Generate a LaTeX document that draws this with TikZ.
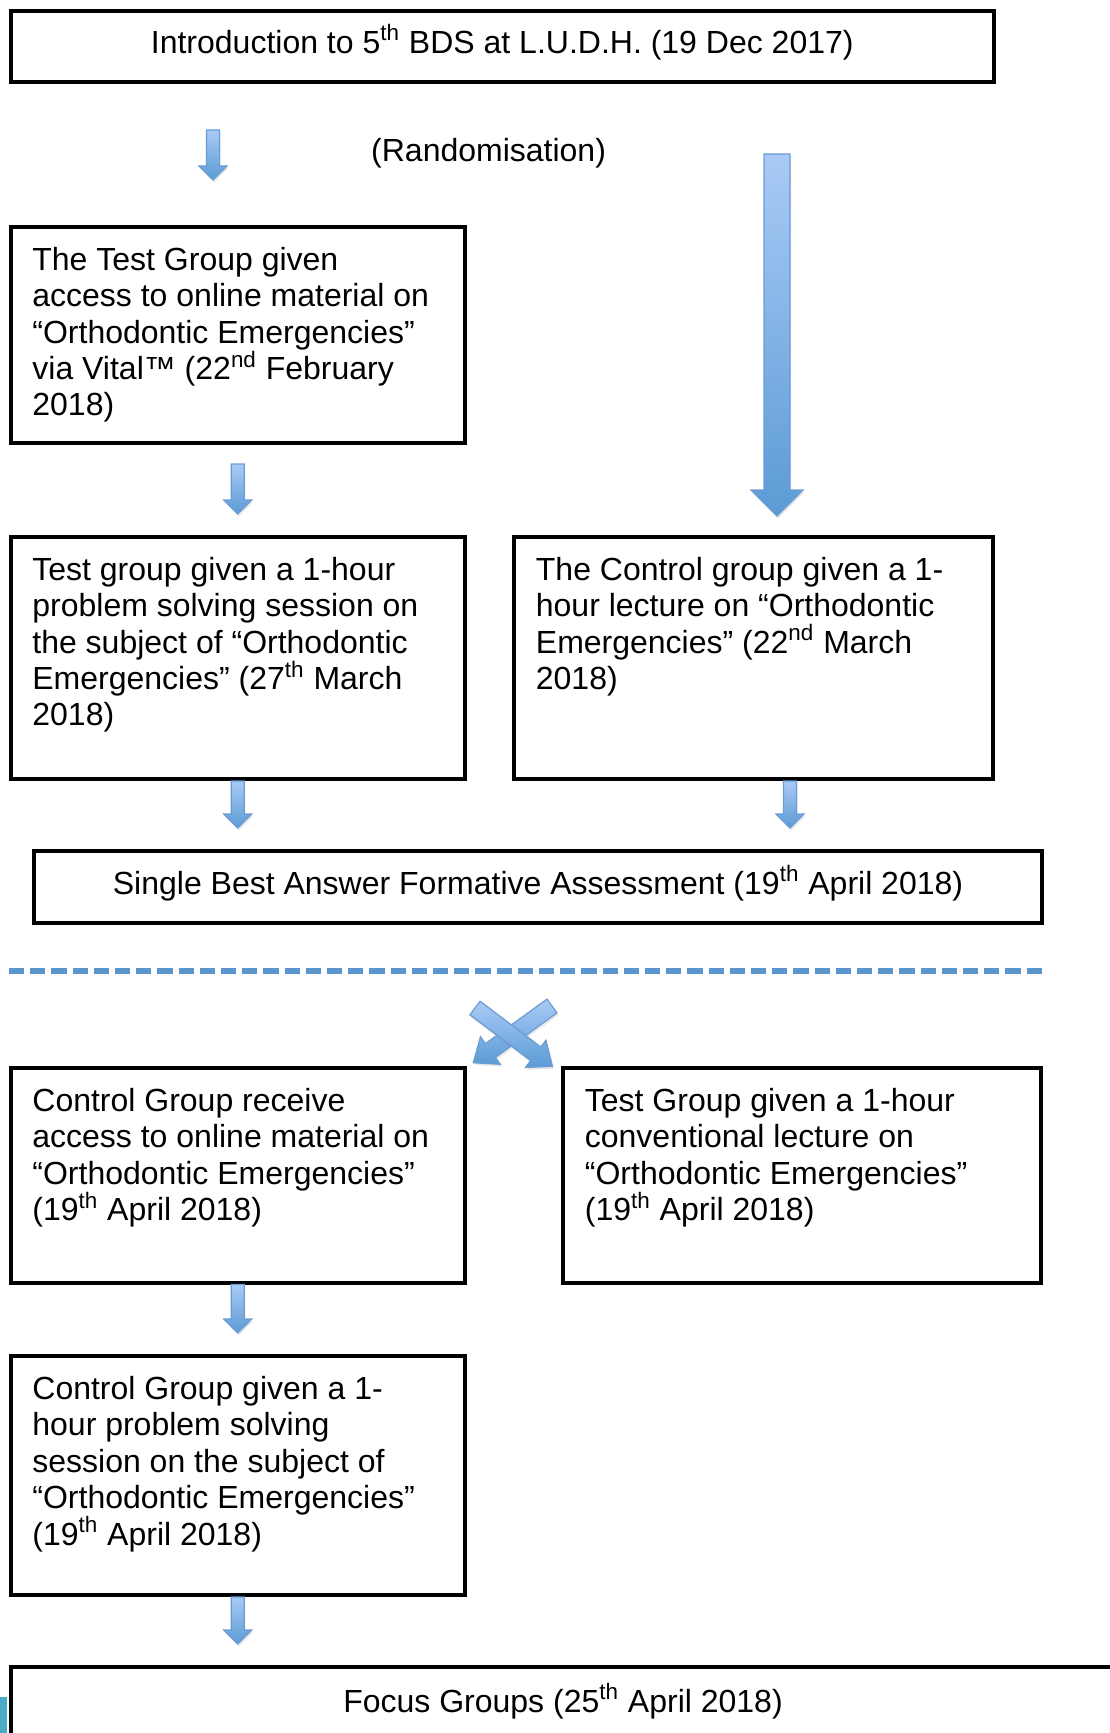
\documentclass[tikz,border=0pt]{standalone}
\usepackage{fontspec}
\setmainfont{Liberation Sans}
\usepackage{xcolor}
\usepackage{tikz}
\usetikzlibrary{shadows, positioning, calc}

\definecolor{arrowlight}{HTML}{A9CAF6}
\definecolor{arrowdark}{HTML}{5B9BD5}
\definecolor{arrowline}{HTML}{6B9CD3}
\definecolor{sepblue}{HTML}{5B95CE}
\definecolor{aquastrip}{HTML}{4BACC6}

\tikzset{
    blockarrow/.style n args={3}{
        to path={let \p1=(\tikztostart), \p2=(\tikztotarget) in
            (\x1-#1,\y1) -- (\x1+#1,\y1) -- (\x1+#1,\y2+#3) -- (\x1+#2,\y2+#3)
            -- (\x1,\y2) -- (\x1-#2,\y2+#3) -- (\x1-#1,\y2+#3) -- cycle}
    }
}

\begin{document}
\begin{tikzpicture}[
    x=0.5pt, y=-0.5pt,
    flowbox/.style={
        rectangle,
        draw=black,
        line width=2pt,
        outer sep=0pt,
        inner sep=0pt,
        font=\fontsize{16pt}{18.2pt}\selectfont
    },
    titlebox/.style={
        flowbox,
        text height=12pt,
        text depth=5pt
    },
    boxtext/.style={
        anchor=north west,
        align=left,
        inner sep=0pt,
        xshift=10.75pt,
        yshift=-9.9pt,
        font=\fontsize{16pt}{18.2pt}\selectfont
    },
    arrowfill/.style={
        top color=arrowlight,
        bottom color=arrowdark,
        draw=arrowline,
        line width=0.6pt,
        drop shadow={opacity=0.18, shadow xshift=0.6pt, shadow yshift=-1.2pt}
    },
    smallarrow/.style={arrowfill, blockarrow={3.25pt}{7pt}{7pt}},
    bigarrow/.style={arrowfill, blockarrow={6.5pt}{13pt}{13pt}},
    separator/.style={draw=sepblue, line width=2.7pt, dash pattern=on 7.6pt off 3pt}
]
    \useasboundingbox (0,0) rectangle (1109,1733);

    % Introduction
    \node[titlebox, minimum width=491.75pt, minimum height=35.5pt, anchor=north west] (intro) at (10.5,11)
        {Introduction to 5\textsuperscript{th} BDS at L.U.D.H. (19 Dec 2017)};
    \node[font=\fontsize{16pt}{18.2pt}\selectfont, anchor=base] (rand) at (488.6,161.7) {(Randomisation)};

    % First phase
    \node[flowbox, minimum width=227.25pt, minimum height=108pt, below=72.5pt of intro.south west, anchor=north west,
        label={[boxtext, name=onlinetxt]north west:The Test Group given\\access to online material on\\“Orthodontic Emergencies”\\via Vital™ (22\textsuperscript{nd} February\\2018)}] (online) {};
    \node[flowbox, minimum width=227.25pt, minimum height=121pt, below=47pt of online.south west, anchor=north west,
        label={[boxtext, name=testpbltxt]north west:Test group given a 1-hour\\problem solving session on\\the subject of “Orthodontic\\Emergencies” (27\textsuperscript{th} March\\2018)}] (testpbl) {};
    \node[flowbox, minimum width=239.5pt, minimum height=121pt, right=24.5pt of testpbl.north east, anchor=north west,
        label={[boxtext, name=ctllecttxt]north west:The Control group given a 1-\\hour lecture on “Orthodontic\\Emergencies” (22\textsuperscript{nd} March\\2018)}] (ctllect) {};
    \node[titlebox, minimum width=504pt, minimum height=36pt, below=36pt of testpbl.south west, anchor=north west, xshift=11.75pt] (sba)
        {Single Best Answer Formative Assessment (19\textsuperscript{th} April 2018)};

    % Separator
    \coordinate (sepL) at (9,971);
    \coordinate (sepR) at (1042,971);
    \draw[separator] (sepL) -- (sepR);

    % Second phase
    \node[flowbox, minimum width=227.25pt, minimum height=107.25pt, below=72.5pt of sba.south west, anchor=north west, xshift=-11.75pt,
        label={[boxtext, name=ctlonlinetxt]north west:Control Group receive\\access to online material on\\“Orthodontic Emergencies”\\(19\textsuperscript{th} April 2018)}] (ctlonline) {};
    \node[flowbox, minimum width=239pt, minimum height=107.25pt, right=49pt of ctlonline.north east, anchor=north west,
        label={[boxtext, name=testlecttxt]north west:Test Group given a 1-hour\\conventional lecture on\\“Orthodontic Emergencies”\\(19\textsuperscript{th} April 2018)}] (testlect) {};
    \node[flowbox, minimum width=227.25pt, minimum height=119.5pt, below=36.75pt of ctlonline.south west, anchor=north west,
        label={[boxtext, name=ctlpbltxt]north west:Control Group given a 1-\\hour problem solving\\session on the subject of\\“Orthodontic Emergencies”\\(19\textsuperscript{th} April 2018)}] (ctlpbl) {};
    \node[titlebox, minimum width=552.5pt, minimum height=38pt, below=36pt of ctlpbl.south west, anchor=north west] (focus)
        {Focus Groups (25\textsuperscript{th} April 2018)};

    % Arrows
    \draw[smallarrow] ($(intro.south west)+(202.5,48)$) to ($(online.north west)+(202.5,-47)$);
    \draw[bigarrow] ($(intro.south west)+(766.5,72)$) to ($(ctllect.north west)+(263,-21)$);
    \draw[smallarrow] ($(online.south)+(0,21)$) to ($(testpbl.north)+(0,-23)$);
    \draw[smallarrow] ($(testpbl.south)+(0,2)$) to ($(sba.north west)+(203.5,-23)$);
    \draw[smallarrow] ($(ctllect.south west)+(276,2)$) to ($(sba.north west)+(756,-23)$);
    \draw[smallarrow] ($(ctlonline.south)+(0,2)$) to ($(ctlpbl.north)+(0,-23)$);
    \draw[smallarrow] ($(ctlpbl.south)+(0,2)$) to ($(focus.north west)+(227.25,-23)$);

    % Crossover
    \draw[arrowfill] (547.0,999.1) -- (485.4,1043.6) -- (480.5,1036.7) -- (473.3,1062.7)
        -- (500.3,1064.3) -- (495.4,1057.4) -- (557.0,1012.9) -- cycle;
    \draw[arrowfill] (480.1,1001.2) -- (540.8,1047.0) -- (545.9,1040.2) -- (552.5,1066.4)
        -- (525.5,1067.4) -- (530.6,1060.6) -- (469.9,1014.8) -- cycle;

    \fill[aquastrip] (0,1697) rectangle (7,1733);
\end{tikzpicture}
\end{document}
